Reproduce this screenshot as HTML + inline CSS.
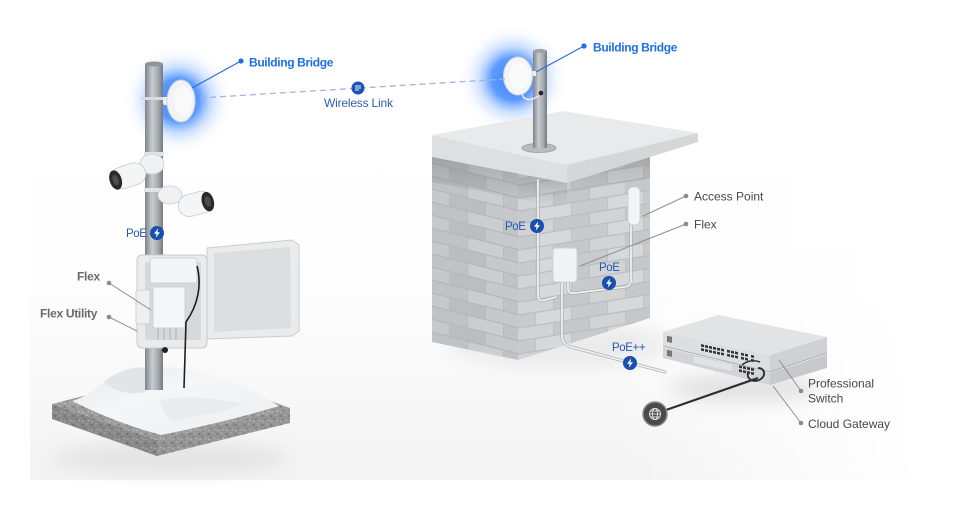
<!DOCTYPE html>
<html><head><meta charset="utf-8">
<style>
html,body{margin:0;padding:0;background:#fff;width:966px;height:510px;overflow:hidden;}
svg{display:block;}
text{font-family:"Liberation Sans",sans-serif;}
</style></head><body>
<svg width="966" height="510" viewBox="0 0 966 510" xmlns="http://www.w3.org/2000/svg">
<defs>
  <linearGradient id="panelV" x1="0" y1="0" x2="0" y2="1">
    <stop offset="0" stop-color="#ffffff"/>
    <stop offset="0.45" stop-color="#fdfdfd"/>
    <stop offset="1" stop-color="#f3f3f3"/>
  </linearGradient>
  <linearGradient id="panelH" x1="0" y1="0" x2="1" y2="0">
    <stop offset="0" stop-color="#fff" stop-opacity="0"/>
    <stop offset="0.65" stop-color="#fff" stop-opacity="0"/>
    <stop offset="1" stop-color="#fff" stop-opacity="1"/>
  </linearGradient>
  <radialGradient id="glow">
    <stop offset="0" stop-color="#2f7cff" stop-opacity="0.95"/>
    <stop offset="0.38" stop-color="#3a84ff" stop-opacity="0.82"/>
    <stop offset="0.6" stop-color="#7aaeff" stop-opacity="0.38"/>
    <stop offset="0.82" stop-color="#b9d3ff" stop-opacity="0.1"/>
    <stop offset="1" stop-color="#e0ecff" stop-opacity="0"/>
  </radialGradient>
  <linearGradient id="pole" x1="0" x2="1">
    <stop offset="0" stop-color="#7c8389"/>
    <stop offset="0.4" stop-color="#c8ccd0"/>
    <stop offset="0.7" stop-color="#a9aeb3"/>
    <stop offset="1" stop-color="#737a80"/>
  </linearGradient>
  <pattern id="brickL" width="72" height="26" patternUnits="userSpaceOnUse" patternTransform="translate(432,150) skewY(14)">
    <rect width="72" height="26" fill="#b4b7b9"/>
    <rect x="0" y="0.8" width="35.2" height="11.8" fill="#c0c3c5"/>
    <rect x="36" y="0.8" width="35.2" height="11.8" fill="#cbcdcf"/>
    <rect x="-18" y="13.8" width="35.2" height="11.8" fill="#c6c9cb"/>
    <rect x="18" y="13.8" width="35.2" height="11.8" fill="#bbbec0"/>
    <rect x="54" y="13.8" width="35.2" height="11.8" fill="#c6c9cb"/>
  </pattern>
  <pattern id="brickR" width="72" height="26" patternUnits="userSpaceOnUse" patternTransform="translate(518,172) skewY(-9)">
    <rect width="72" height="26" fill="#babdbf"/>
    <rect x="0" y="0.8" width="35.2" height="11.8" fill="#d1d3d4"/>
    <rect x="36" y="0.8" width="35.2" height="11.8" fill="#c5c8ca"/>
    <rect x="-18" y="13.8" width="35.2" height="11.8" fill="#c8cbcd"/>
    <rect x="18" y="13.8" width="35.2" height="11.8" fill="#d6d8d9"/>
    <rect x="54" y="13.8" width="35.2" height="11.8" fill="#c8cbcd"/>
  </pattern>
  <pattern id="speck" width="9" height="9" patternUnits="userSpaceOnUse">
    <rect width="9" height="9" fill="#9c9c9c"/>
    <circle cx="1.5" cy="2" r="0.9" fill="#6f6f6f"/>
    <circle cx="6" cy="1" r="0.7" fill="#c4c4c4"/>
    <circle cx="4" cy="5" r="0.8" fill="#7a7a7a"/>
    <circle cx="7.5" cy="6.5" r="0.9" fill="#bdbdbd"/>
    <circle cx="2" cy="7.5" r="0.7" fill="#cfcfcf"/>
  </pattern>
  <linearGradient id="underSlab" x1="0" y1="0" x2="0" y2="1">
    <stop offset="0" stop-color="#555" stop-opacity="0.3"/>
    <stop offset="1" stop-color="#555" stop-opacity="0"/>
  </linearGradient>
  <linearGradient id="snowG" x1="0" y1="0" x2="1" y2="1">
    <stop offset="0" stop-color="#e4e7ea"/>
    <stop offset="0.4" stop-color="#f5f6f7"/>
    <stop offset="1" stop-color="#eceef0"/>
  </linearGradient>
  <filter id="blur8" x="-50%" y="-50%" width="200%" height="200%"><feGaussianBlur stdDeviation="9"/></filter>
  <g id="bolt">
    <circle r="7" fill="#1a4fae"/>
    <path d="M1.2 -4.6 L-3 0.8 L-0.4 0.8 L-1.2 4.6 L3 -0.8 L0.4 -0.8 Z" fill="#fff"/>
  </g>
</defs>

<!-- background panel -->
<rect x="30" y="140" width="890" height="340" fill="url(#panelV)"/>
<rect x="30" y="140" width="890" height="340" fill="url(#panelH)"/>

<!-- ground shadows -->
<ellipse cx="170" cy="458" rx="120" ry="16" fill="#c6c6c6" opacity="0.35" filter="url(#blur8)"/>
<ellipse cx="560" cy="345" rx="110" ry="22" fill="#cfcfcf" opacity="0.35" filter="url(#blur8)"/>
<ellipse cx="745" cy="388" rx="75" ry="14" fill="#c2c2c2" opacity="0.45" filter="url(#blur8)"/>

<!-- glows -->
<circle cx="178" cy="100" r="56" fill="url(#glow)"/>
<circle cx="513" cy="79" r="56" fill="url(#glow)"/>

<!-- ========== LEFT SCENE ========== -->
<!-- concrete base -->
<polygon points="52,404 157,440 157,456 52,419" fill="url(#speck)"/>
<polygon points="52,404 157,440 157,456 52,419" fill="#000" opacity="0.12"/>
<polygon points="157,440 290,408 290,423 157,456" fill="url(#speck)"/>
<polygon points="157,440 290,408 290,423 157,456" fill="#000" opacity="0.05"/>
<polygon points="52,404 185,370 290,408 157,440" fill="url(#speck)"/>
<!-- snow -->
<path d="M72 401 C88 396 98 388 106 380 C120 369 138 365 154 368 C176 365 200 372 222 378 C246 386 264 396 279 406 C242 417 202 427 161 435 C128 426 98 414 72 401 Z" fill="url(#snowG)"/>
<path d="M104 382 C116 372 132 367 146 368 L146 392 C130 395 114 392 104 382 Z" fill="#e2e5e8"/>
<path d="M160 400 C185 395 215 398 245 404 C220 412 195 417 172 421 C164 414 160 407 160 400 Z" fill="#e9ebed"/>

<!-- pole -->
<rect x="145" y="64" width="18" height="326" fill="url(#pole)"/>
<ellipse cx="154" cy="64" rx="9" ry="2.5" fill="#8f959a"/>

<!-- left bridge -->
<rect x="140" y="97" width="26" height="3" fill="#d9dcde"/>
<rect x="163" y="97" width="12" height="8" rx="2" fill="#eef0f1"/>
<ellipse cx="181" cy="101" rx="14" ry="21" fill="#f2f3f4" stroke="#cfd3d6" stroke-width="1"/>
<ellipse cx="183" cy="101" rx="9" ry="15" fill="#f8f9f9"/>

<!-- cameras -->
<rect x="144" y="152" width="20" height="4" fill="#e2e5e7"/>
<ellipse cx="152" cy="164" rx="12" ry="10" fill="#eff1f2" stroke="#d3d6d8"/>
<g transform="translate(128,176) rotate(-18)">
  <rect x="-17" y="-11" width="35" height="22" rx="11" fill="#f4f5f6" stroke="#cfd2d5"/>
  <ellipse cx="-13" cy="0" rx="6" ry="10" fill="#2a2a2a"/>
  <ellipse cx="-13" cy="0" rx="3" ry="5.5" fill="#4d4d4d"/>
</g>
<rect x="144" y="188" width="20" height="4" fill="#e2e5e7"/>
<ellipse cx="170" cy="195" rx="12" ry="9" fill="#eff1f2" stroke="#d3d6d8"/>
<g transform="translate(195,204) rotate(-15)">
  <rect x="-17" y="-11" width="35" height="22" rx="11" fill="#f4f5f6" stroke="#cfd2d5"/>
  <ellipse cx="13" cy="1" rx="6" ry="10" fill="#2a2a2a"/>
  <ellipse cx="13" cy="1" rx="3" ry="5.5" fill="#4d4d4d"/>
</g>

<!-- enclosure -->
<polygon points="207,248 292,240 299,245 299,331 292,336 207,339" fill="#eaebec" stroke="#c9ccce"/>
<polygon points="214,253 290,247 291,328 214,332" fill="#dcdedf"/>
<rect x="137" y="255" width="70" height="93" rx="5" fill="#eaebec" stroke="#c6c9cb"/>
<rect x="145" y="262" width="56" height="78" rx="2" fill="#d6d8da"/>
<rect x="150" y="258" width="47" height="25" rx="2" fill="#f3f4f5" stroke="#cfd2d4"/>
<rect x="153" y="287" width="32" height="41" rx="2" fill="#f5f6f7" stroke="#cfd2d4"/>
<rect x="136" y="290" width="14" height="34" rx="2" fill="#eeeff0" stroke="#cdd0d2"/>
<g stroke="#b0b3b6" stroke-width="1">
  <line x1="158" y1="328" x2="158" y2="340"/><line x1="164" y1="328" x2="164" y2="340"/>
  <line x1="170" y1="328" x2="170" y2="340"/><line x1="176" y1="328" x2="176" y2="340"/>
</g>
<circle cx="165" cy="350" r="3" fill="#222"/>
<path d="M197 266 C202 285 198 305 186 322 L184 388" fill="none" stroke="#1f1f1f" stroke-width="1.6"/>

<!-- ========== BUILDING ========== -->
<polygon points="432,150 518,172 518,360 432,342" fill="url(#brickL)"/>
<polygon points="518,172 650,148 650,318 518,360" fill="url(#brickR)"/>
<polygon points="432,157 567,183 567,208 432,182" fill="url(#underSlab)"/>
<polygon points="518,178 650,155 650,178 518,202" fill="url(#underSlab)"/>
<!-- slab -->
<polygon points="432,135 567,165 567,183 432,157" fill="#dedfe0"/>
<polygon points="567,165 698,133 698,142 567,183" fill="#d5d6d7"/>
<polygon points="432,135 563,111 698,133 567,165" fill="#e9eaeb"/>
<!-- right pole -->
<ellipse cx="539" cy="148" rx="17" ry="4.5" fill="#b8bcc0" stroke="#9ea3a7"/>
<rect x="533" y="51" width="14" height="97" fill="url(#pole)"/>
<ellipse cx="540" cy="51" rx="7" ry="2" fill="#9da3a8"/>
<circle cx="541" cy="93" r="2.3" fill="#222"/>
<path d="M522 92 C522 100 530 102 538 96" fill="none" stroke="#e8eaeb" stroke-width="1.5"/>
<rect x="526" y="71" width="10" height="5" fill="#eceef0"/>
<ellipse cx="518" cy="76" rx="14.5" ry="19" fill="#f4f5f6" stroke="#d3d6d9"/>
<ellipse cx="519" cy="76" rx="10" ry="14" fill="#f9fafa"/>

<!-- cables on building -->
<g fill="none" stroke-linecap="round" stroke-linejoin="round">
  <g stroke="#a3a6a9" stroke-width="3">
    <path d="M538 180 L538 296 Q538 302 545 300 L556 297"/>
    <path d="M568 282 L568 290 Q569 294 575 293 L625 287 Q631 286 631 280 L631 225"/>
    <path d="M562 282 L562 338 Q563 346 575 348 L665 372"/>
  </g>
  <g stroke="#eff0f1" stroke-width="1.8">
    <path d="M538 180 L538 296 Q538 302 545 300 L556 297"/>
    <path d="M568 282 L568 290 Q569 294 575 293 L625 287 Q631 286 631 280 L631 225"/>
    <path d="M562 282 L562 338 Q563 346 575 348 L665 372"/>
  </g>
</g>
<!-- access point & flex -->
<rect x="628" y="187" width="12" height="38" rx="5" fill="#f3f4f5" stroke="#cdd0d3"/>
<rect x="553" y="248" width="24" height="34" rx="3" fill="#f1f2f3" stroke="#cdd0d3"/>

<!-- ========== SWITCH STACK ========== -->
<polygon points="663,347 770,373 770,385 663,358" fill="#d2d4d7"/>
<polygon points="770,373 827,354 827,368 770,385" fill="#c7c9cc"/>
<polygon points="663,332 770,355 770,372 663,346" fill="#dcdee0"/>
<polygon points="770,355 827,337 827,353 770,372" fill="#cfd1d4"/>
<polygon points="663,332 718,315 827,337 770,355" fill="#e1e3e5"/>
<line x1="663" y1="346" x2="770" y2="372" stroke="#9fa3a7" stroke-width="0.8"/>
<line x1="770" y1="372" x2="827" y2="353" stroke="#9fa3a7" stroke-width="0.8"/>
<g transform="translate(663,332) skewY(12.1)">
  <rect x="4" y="3" width="5" height="6" fill="#777"/>
  <g fill="#333">
    <rect x="38" y="4" width="3" height="2.5"/><rect x="42" y="4" width="3" height="2.5"/><rect x="46" y="4" width="3" height="2.5"/><rect x="50" y="4" width="3" height="2.5"/><rect x="54" y="4" width="3" height="2.5"/><rect x="58" y="4" width="3" height="2.5"/><rect x="64" y="4" width="3" height="2.5"/><rect x="68" y="4" width="3" height="2.5"/><rect x="72" y="4" width="3" height="2.5"/><rect x="78" y="4" width="3" height="2.5"/><rect x="82" y="4" width="3" height="2.5"/><rect x="88" y="4" width="3" height="2.5"/>
    <rect x="38" y="8" width="3" height="2.5"/><rect x="42" y="8" width="3" height="2.5"/><rect x="46" y="8" width="3" height="2.5"/><rect x="50" y="8" width="3" height="2.5"/><rect x="54" y="8" width="3" height="2.5"/><rect x="58" y="8" width="3" height="2.5"/><rect x="64" y="8" width="3" height="2.5"/><rect x="68" y="8" width="3" height="2.5"/><rect x="72" y="8" width="3" height="2.5"/><rect x="78" y="8" width="3" height="2.5"/><rect x="82" y="8" width="3" height="2.5"/><rect x="88" y="8" width="3" height="2.5"/>
  </g>
</g>
<g transform="translate(663,347) skewY(12.1)">
  <rect x="4" y="2" width="5" height="6" fill="#777"/>
  <rect x="30" y="2" width="40" height="8" fill="#e0e2e4" stroke="#c3c6c9" stroke-width="0.6"/>
  <g fill="#333">
    <rect x="76" y="2" width="3" height="2.5"/><rect x="80" y="2" width="3" height="2.5"/><rect x="84" y="2" width="3" height="2.5"/><rect x="88" y="2" width="3" height="2.5"/>
    <rect x="76" y="6" width="3" height="2.5"/><rect x="80" y="6" width="3" height="2.5"/><rect x="84" y="6" width="3" height="2.5"/><rect x="88" y="6" width="3" height="2.5"/>
  </g>
</g>
<!-- patch cables -->
<path d="M742 365 C748 360 755 360 760 362" fill="none" stroke="#333" stroke-width="1.6"/>
<path d="M748 373 C746 380 756 384 762 378 C766 374 764 368 758 368" fill="none" stroke="#2a2a2a" stroke-width="1.8"/>
<!-- internet cable & globe -->
<line x1="666" y1="410" x2="758" y2="378" stroke="#2d2d2d" stroke-width="2.2"/>
<circle cx="655" cy="414" r="12" fill="#4b4b4b" stroke="#8a8a8a" stroke-width="1.5"/>
<g fill="none" stroke="#e8e8e8" stroke-width="0.9">
  <circle cx="655" cy="414" r="5.5"/>
  <ellipse cx="655" cy="414" rx="2.5" ry="5.5"/>
  <line x1="649.5" y1="414" x2="660.5" y2="414"/>
  <line x1="650.5" y1="411" x2="659.5" y2="411"/>
  <line x1="650.5" y1="417" x2="659.5" y2="417"/>
</g>

<!-- ========== CONNECTORS & LABELS ========== -->
<!-- wireless link -->
<line x1="200" y1="98" x2="505" y2="79" stroke="#9fb6dd" stroke-width="1.3" stroke-dasharray="6 4"/>
<circle cx="358" cy="88" r="6.5" fill="#1a55b5"/>
<g stroke="#fff" stroke-width="0.9" fill="none">
  <line x1="355" y1="86" x2="361" y2="86"/>
  <line x1="355" y1="88" x2="361" y2="88"/>
  <line x1="355" y1="90" x2="359" y2="90"/>
</g>
<text x="324" y="107" font-size="12" fill="#2f5fae" letter-spacing="-0.2">Wireless Link</text>

<!-- building bridge labels -->
<line x1="192" y1="88" x2="241" y2="61" stroke="#2a6fdc" stroke-width="1.2"/>
<circle cx="241" cy="61" r="2.6" fill="#1d6ee0"/>
<text x="249" y="66.5" font-size="12" font-weight="bold" fill="#1e6fe0" letter-spacing="-0.35">Building Bridge</text>
<line x1="536" y1="72" x2="584" y2="46" stroke="#2a6fdc" stroke-width="1.2"/>
<circle cx="584" cy="46" r="2.6" fill="#1d6ee0"/>
<text x="593" y="51.5" font-size="12" font-weight="bold" fill="#1e6fe0" letter-spacing="-0.35">Building Bridge</text>

<!-- PoE labels -->
<text x="126" y="237" font-size="11.5" fill="#2458b5" letter-spacing="-0.4">PoE</text>
<use href="#bolt" x="157" y="233"/>
<text x="505" y="230" font-size="11.5" fill="#2458b5" letter-spacing="-0.4">PoE</text>
<use href="#bolt" x="537" y="226"/>
<text x="599" y="271" font-size="11.5" fill="#2458b5" letter-spacing="-0.4">PoE</text>
<use href="#bolt" x="609" y="283"/>
<text x="612" y="351" font-size="11.5" fill="#2458b5" letter-spacing="-0.4">PoE++</text>
<use href="#bolt" x="630" y="363"/>

<!-- gray label connectors -->
<g stroke="#8f8f8f" stroke-width="1">
  <line x1="109" y1="283" x2="151" y2="310"/>
  <line x1="109" y1="317" x2="137" y2="331"/>
  <line x1="686" y1="196" x2="643" y2="216"/>
  <line x1="686" y1="224" x2="580" y2="266"/>
  <line x1="801" y1="391" x2="779" y2="360"/>
  <line x1="801" y1="423" x2="773" y2="386"/>
</g>
<g fill="#8a8a8a">
  <circle cx="109" cy="283" r="2.3"/><circle cx="109" cy="317" r="2.3"/>
  <circle cx="686" cy="196" r="2.3"/><circle cx="686" cy="224" r="2.3"/>
  <circle cx="801" cy="391" r="2.3"/><circle cx="801" cy="423" r="2.3"/>
</g>
<text x="77" y="280.5" font-size="12" font-weight="bold" fill="#6a6a6a" letter-spacing="-0.3">Flex</text>
<text x="40" y="317.5" font-size="12" font-weight="bold" fill="#6a6a6a" letter-spacing="-0.3">Flex Utility</text>
<text x="694" y="200.5" font-size="12" fill="#474747">Access Point</text>
<text x="694" y="228.5" font-size="12" fill="#474747">Flex</text>
<text x="808" y="387.5" font-size="12" fill="#474747">Professional</text>
<text x="808" y="402.5" font-size="12" fill="#474747">Switch</text>
<text x="808" y="428" font-size="12" fill="#474747">Cloud Gateway</text>
</svg>
</body></html>
